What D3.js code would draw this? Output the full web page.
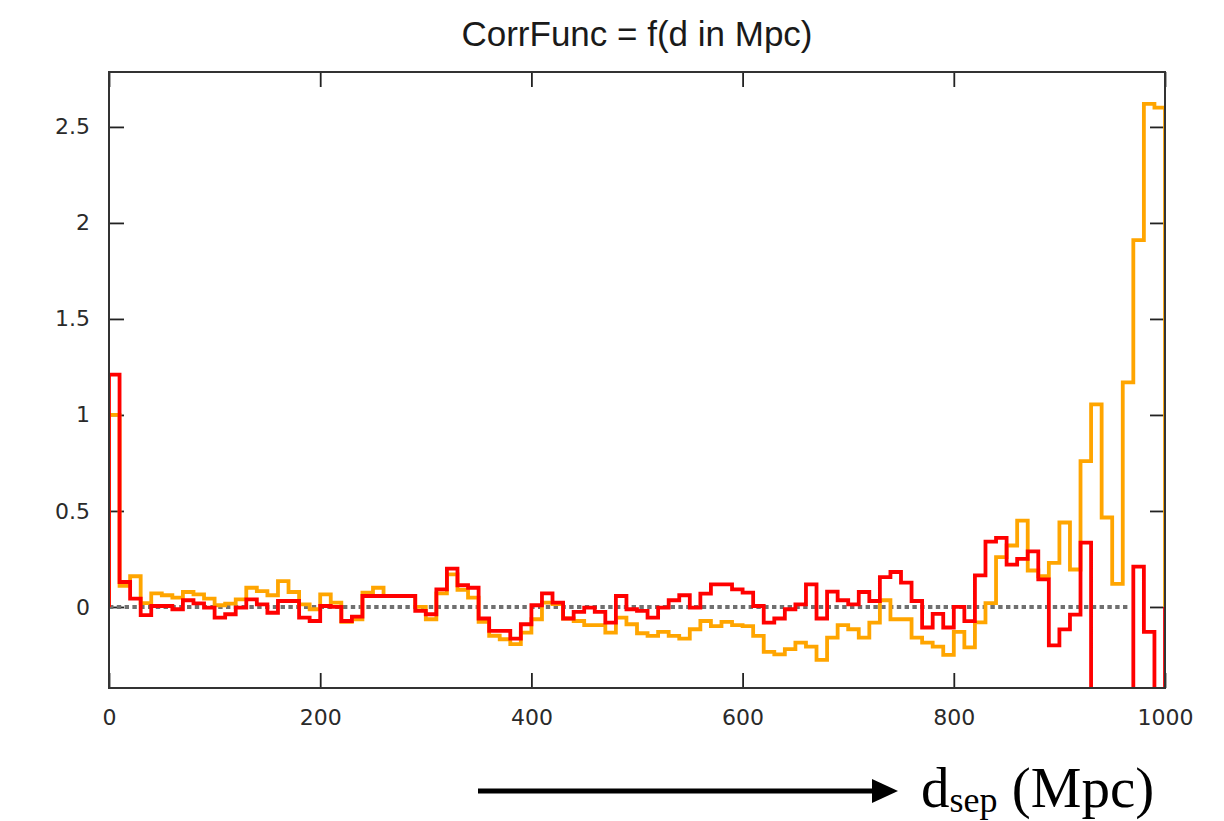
<!DOCTYPE html>
<html>
<head>
<meta charset="utf-8">
<script src="https://cdn.jsdelivr.net/npm/d3@7"></script>
<style>
  html, body { margin: 0; padding: 0; background: #ffffff; }
  svg { display: block; }
</style>
</head>
<body>
<svg id="chart" width="1224" height="821"></svg>
<script>
// Correlation function binned in 10 Mpc separation bins (0 - 1000 Mpc)
const binWidth = 10;
const binStarts = d3.range(0, 1000, binWidth);

// Orange series, one value per bin
const orangeValues = [
  1.00, 0.11, 0.16, 0.02, 0.071, 0.061, 0.049, 0.078, 0.066, 0.043,
  0.009, 0.017, 0.04, 0.10, 0.083, 0.061, 0.135, 0.078, 0.014, -0.012,
  0.066, 0.023, -0.078, -0.064, 0.075, 0.10, 0.057, 0.057, 0.057, 0.0,
  -0.064, 0.071, 0.17, 0.089, 0.049, -0.078, -0.15, -0.168, -0.194, -0.134,
  -0.064, 0.023, 0.015, -0.06, -0.073, -0.095, -0.095, -0.134, -0.056, -0.09,
  -0.137, -0.151, -0.13, -0.151, -0.165, -0.116, -0.073, -0.10, -0.078, -0.095,
  -0.10, -0.151, -0.234, -0.247, -0.22, -0.186, -0.207, -0.276, -0.16, -0.095,
  -0.116, -0.16, -0.082, 0.035, -0.064, -0.064, -0.16, -0.186, -0.207, -0.25,
  -0.13, -0.21, -0.08, 0.02, 0.26, 0.32, 0.45, 0.19, 0.16, 0.23,
  0.44, 0.195, 0.76, 1.055, 0.466, 0.12, 1.17, 1.91, 2.62, 2.60
];

// Red series, one value per bin
const redValues = [
  1.21, 0.13, 0.043, -0.043, 0.005, 0.005, -0.012, 0.035, 0.019, -0.003,
  -0.056, -0.038, -0.003, 0.04, 0.014, -0.03, 0.031, 0.031, -0.056, -0.073,
  0.005, 0.0, -0.073, -0.05, 0.057, 0.057, 0.057, 0.057, 0.057, -0.02,
  -0.038, 0.092, 0.20, 0.113, 0.10, -0.06, -0.125, -0.125, -0.165, -0.09,
  0.009, 0.071, 0.023, -0.06, -0.026, -0.003, -0.026, -0.082, 0.057, -0.012,
  -0.02, -0.056, -0.003, 0.035, 0.061, -0.003, 0.069, 0.118, 0.118, 0.092,
  0.075, 0.005, -0.082, -0.06, -0.012, 0.014, 0.118, -0.06, 0.08, 0.035,
  0.014, 0.078, 0.031, 0.155, 0.182, 0.127, 0.031, -0.107, -0.036, -0.107,
  0.0, -0.074, 0.165, 0.34, 0.36, 0.22, 0.25, 0.29, 0.144, -0.20,
  -0.117, -0.04, 0.335, -0.9, -1.1, -0.8, -1.0, 0.21, -0.13, -0.7
];

// Zero reference line extent
const zeroLineX = [0, 965];

const xTicks = [0, 200, 400, 600, 800, 1000];
const yTicks = [0, 0.5, 1, 1.5, 2, 2.5];
const xDomain = [0, 1000];
const yDomain = [-0.422, 2.786];

const titleText = "CorrFunc = f(d in Mpc)";

const plot = { left: 109, right: 1165, top: 72, bottom: 688 };

const svg = d3.select("#chart");

const x = d3.scaleLinear().domain(xDomain).range([plot.left, plot.right]);
const y = d3.scaleLinear().domain(yDomain).range([plot.bottom, plot.top]);

svg.append("defs").append("clipPath").attr("id", "plotClip")
  .append("rect")
  .attr("x", plot.left).attr("y", plot.top)
  .attr("width", plot.right - plot.left).attr("height", plot.bottom - plot.top);

// Title
svg.append("text")
  .attr("x", (plot.left + plot.right) / 2)
  .attr("y", 46)
  .attr("text-anchor", "middle")
  .attr("font-family", "'Liberation Sans', Arial, sans-serif")
  .attr("font-size", 35)
  .attr("fill", "#1a1a1a")
  .text(titleText);

// Axes with inward ticks (gnuplot style), mirrored on top/right
const tickColor = "#222";
const styleAxis = g => {
  g.select(".domain").remove();
  g.selectAll(".tick line").attr("stroke", tickColor).attr("stroke-width", 1.8);
  g.selectAll(".tick text")
    .attr("font-family", "'DejaVu Sans', Verdana, sans-serif")
    .attr("font-size", 22)
    .attr("fill", "#2a2a2a");
};

svg.append("g")
  .attr("transform", `translate(${plot.left},0)`)
  .call(d3.axisLeft(y).tickValues(yTicks).tickFormat(d3.format("")).tickSizeInner(-15).tickSizeOuter(0).tickPadding(19))
  .call(styleAxis);

svg.append("g")
  .attr("transform", `translate(${plot.right},0)`)
  .call(d3.axisRight(y).tickValues(yTicks).tickFormat("").tickSizeInner(-15).tickSizeOuter(0))
  .call(styleAxis);

svg.append("g")
  .attr("transform", `translate(0,${plot.bottom})`)
  .call(d3.axisBottom(x).tickValues(xTicks).tickFormat(d3.format("d")).tickSizeInner(-15).tickSizeOuter(0).tickPadding(21))
  .call(styleAxis);

svg.append("g")
  .attr("transform", `translate(0,${plot.top})`)
  .call(d3.axisTop(x).tickValues(xTicks).tickFormat("").tickSizeInner(-15).tickSizeOuter(0))
  .call(styleAxis);

// Histogram outlines drawn as steps that start and end on the zero level
const stepPoints = values => {
  const pts = [[binStarts[0], 0]];
  values.forEach((v, i) => {
    pts.push([binStarts[i], v]);
    pts.push([binStarts[i] + binWidth, v]);
  });
  pts.push([binStarts[binStarts.length - 1] + binWidth, 0]);
  return pts;
};

const line = d3.line().x(d => x(d[0])).y(d => y(d[1]));

const marks = svg.append("g").attr("clip-path", "url(#plotClip)");

marks.append("path")
  .attr("d", line(zeroLineX.map(v => [v, 0])))
  .attr("fill", "none")
  .attr("stroke", "#707070")
  .attr("stroke-width", 4)
  .attr("stroke-dasharray", "4.4 3.4");

marks.append("path")
  .attr("d", line(stepPoints(orangeValues)))
  .attr("fill", "none")
  .attr("stroke", "#ffa500")
  .attr("stroke-width", 3.8)
  .attr("stroke-linejoin", "miter");

marks.append("path")
  .attr("d", line(stepPoints(redValues)))
  .attr("fill", "none")
  .attr("stroke", "#ff0000")
  .attr("stroke-width", 3.8)
  .attr("stroke-linejoin", "miter");

// Plot border
svg.append("rect")
  .attr("x", plot.left).attr("y", plot.top)
  .attr("width", plot.right - plot.left).attr("height", plot.bottom - plot.top)
  .attr("fill", "none")
  .attr("stroke", "#333")
  .attr("stroke-width", 2);

// Separation-axis annotation below the chart
const ann = svg.append("g");
ann.append("line")
  .attr("x1", 478).attr("y1", 791)
  .attr("x2", 874).attr("y2", 791)
  .attr("stroke", "#000").attr("stroke-width", 5);
ann.append("path")
  .attr("d", "M872,779 L898,791 L872,803 Z")
  .attr("fill", "#000");

const label = ann.append("text")
  .attr("x", 921)
  .attr("y", 807)
  .attr("font-family", "'Liberation Serif', 'Times New Roman', serif")
  .attr("font-size", 57)
  .attr("fill", "#000");
label.append("tspan").text("d");
label.append("tspan").attr("font-size", 36).attr("dy", 5).text("sep");
label.append("tspan").attr("dy", -5).text(" (Mpc)");
</script>
</body>
</html>
